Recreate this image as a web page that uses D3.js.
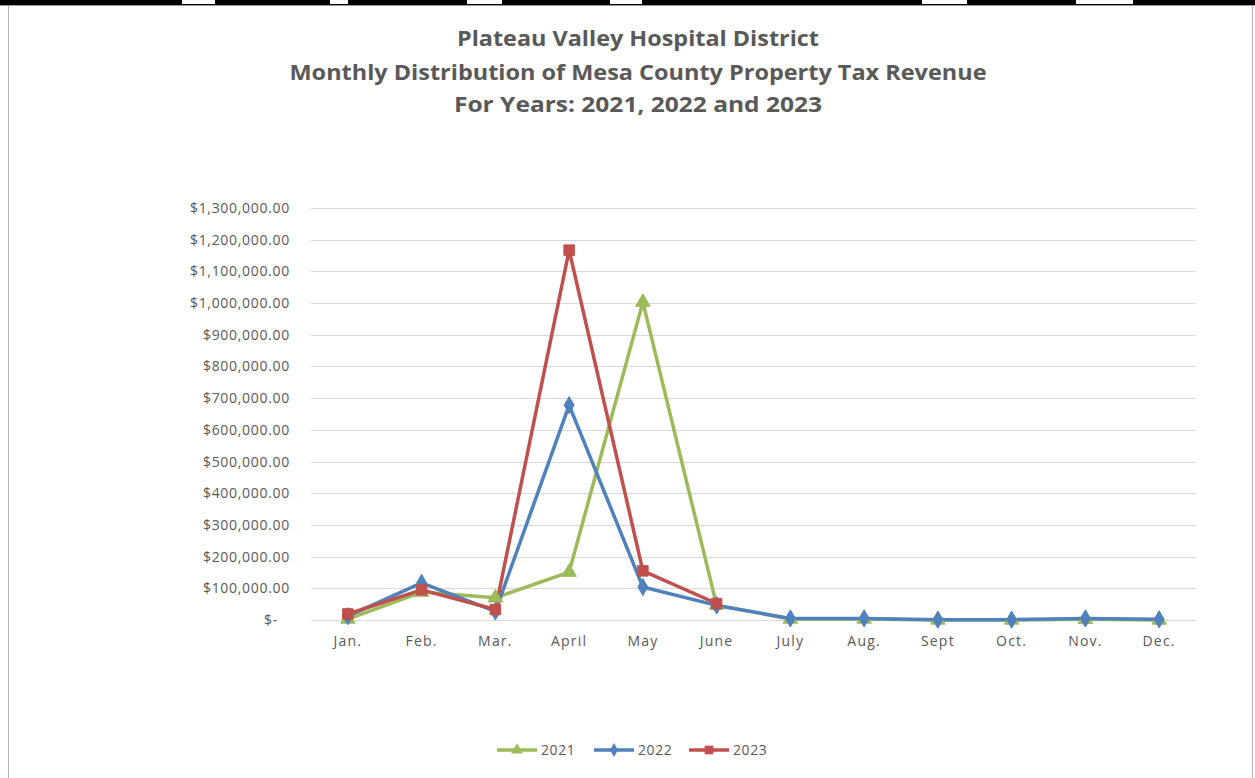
<!DOCTYPE html>
<html>
<head>
<meta charset="utf-8">
<script src="https://cdn.jsdelivr.net/npm/d3@7"></script>
<style>
  html, body { margin: 0; padding: 0; background: #ffffff; }
  svg { display: block; }
</style>
</head>
<body>
<svg id="chart" width="1255" height="778"></svg>
<script>
// ---- data ----
const months = ["Jan.", "Feb.", "Mar.", "April", "May", "June", "July", "Aug.", "Sept", "Oct.", "Nov.", "Dec."];
const years = ["2021", "2022", "2023"];
const values2021 = [3000, 88000, 70000, 151000, 1003000, 47000, 3000, 3000, 0, 0, 2000, 0];
const values2022 = [12000, 117000, 27000, 678000, 104000, 46000, 5000, 5000, 1000, 1000, 5000, 2000];
const values2023 = [19000, 95000, 33000, 1167000, 155000, 52000];
const yTicks = [0, 100000, 200000, 300000, 400000, 500000, 600000, 700000, 800000, 900000, 1000000, 1100000, 1200000, 1300000];
const titleLines = ["Plateau Valley Hospital District", "Monthly Distribution of Mesa County Property Tax Revenue", "For Years:  2021, 2022 and 2023"];

const colors = ["#9BBB59", "#4F81BD", "#C0504D"];
const markers = [d3.symbolTriangle, d3.symbolDiamond, d3.symbolSquare];
const seriesValues = [values2021, values2022, values2023];

const svg = d3.select("#chart");
const W = 1255, H = 778;
const font = "'Open Sans', 'Noto Sans', 'DejaVu Sans', sans-serif";

// frame: spreadsheet header strip + chart border
svg.append("rect").attr("x", 0).attr("y", 0).attr("width", W).attr("height", 5).attr("fill", "#000");
const gaps = [[182, 215], [330, 348], [467, 502], [610, 642], [922, 967], [1076, 1133]];
svg.selectAll("rect.gap").data(gaps).join("rect")
  .attr("x", d => d[0]).attr("y", 0).attr("width", d => d[1] - d[0]).attr("height", 4).attr("fill", "#fff");
svg.append("line").attr("x1", 0).attr("x2", W).attr("y1", 5.5).attr("y2", 5.5).attr("stroke", "#9a9a9a").attr("stroke-width", 1);
svg.append("line").attr("x1", 8.5).attr("x2", 8.5).attr("y1", 6).attr("y2", H).attr("stroke", "#b0b0b0").attr("stroke-width", 1);
svg.append("line").attr("x1", 1252.5).attr("x2", 1252.5).attr("y1", 6).attr("y2", H).attr("stroke", "#b0b0b0").attr("stroke-width", 1);

// title
const titleY = [46, 80, 112];
const titleW = [362, 697, 368];
titleLines.forEach((t, i) => {
  svg.append("text")
    .attr("x", 638).attr("y", titleY[i])
    .attr("text-anchor", "middle")
    .attr("font-family", font).attr("font-weight", "bold").attr("font-size", 22)
    .attr("fill", "#595959")
    .attr("textLength", titleW[i]).attr("lengthAdjust", "spacingAndGlyphs")
    .text(t);
});

// scales
const plotL = 311, plotR = 1196, plotT = 208, plotB = 620;
const x = d3.scaleBand().domain(months).range([plotL, plotR]);
const y = d3.scaleLinear().domain([0, 1300000]).range([plotB, plotT]);
const cx = m => x(m) + x.bandwidth() / 2;

// gridlines
svg.append("g").selectAll("line").data(yTicks).join("line")
  .attr("x1", plotL).attr("x2", plotR)
  .attr("y1", d => Math.round(y(d)) + 0.5).attr("y2", d => Math.round(y(d)) + 0.5)
  .attr("stroke", "#d9d9d9").attr("stroke-width", 1);

// y axis
const fmt = d => d === 0 ? "$-" : "$" + d3.format(",.2f")(d);
const yAxis = svg.append("g").attr("transform", `translate(${plotL},0)`)
  .call(d3.axisLeft(y).tickValues(yTicks).tickFormat(fmt).tickSize(0).tickPadding(21));
yAxis.select(".domain").remove();
yAxis.selectAll("text").attr("font-family", font).attr("font-size", 14).attr("fill", "#595959").attr("letter-spacing", 0.7);
yAxis.selectAll(".tick").filter(d => d === 0).select("text").attr("dx", -12);

// x axis
const xAxis = svg.append("g").attr("transform", `translate(0,${plotB})`)
  .call(d3.axisBottom(x).tickSize(0).tickPadding(16));
xAxis.select(".domain").remove();
xAxis.selectAll("text").attr("font-family", font).attr("font-size", 14).attr("fill", "#595959").attr("letter-spacing", 1.2);

// lines
const line = d3.line().x((d, i) => cx(months[i])).y(d => y(d));
seriesValues.forEach((vals, s) => {
  svg.append("path").datum(vals)
    .attr("fill", "none").attr("stroke", colors[s]).attr("stroke-width", 3.5)
    .attr("stroke-linejoin", "round").attr("d", line);
});
seriesValues.forEach((vals, s) => {
  const sizes = [90, 85, 110];
  svg.append("g").selectAll("path").data(vals).join("path")
    .attr("transform", (d, i) => `translate(${cx(months[i])},${y(d)})`)
    .attr("d", d3.symbol().type(markers[s]).size(sizes[s]))
    .attr("fill", colors[s]).attr("stroke", colors[s]).attr("stroke-width", 1);
});

// legend
const legX = [497, 594, 689];
years.forEach((yr, i) => {
  const g = svg.append("g").attr("transform", `translate(${legX[i]},750)`);
  g.append("line").attr("x1", 0).attr("x2", 40).attr("y1", 0).attr("y2", 0)
    .attr("stroke", colors[i]).attr("stroke-width", 3.5);
  g.append("path").attr("transform", "translate(20,0)")
    .attr("d", d3.symbol().type(markers[i]).size([60, 55, 75][i])).attr("fill", colors[i]);
  g.append("text").attr("x", 44).attr("y", 5)
    .attr("font-family", font).attr("font-size", 14).attr("fill", "#595959").attr("letter-spacing", 0.6).text(yr);
});
</script>
</body>
</html>
